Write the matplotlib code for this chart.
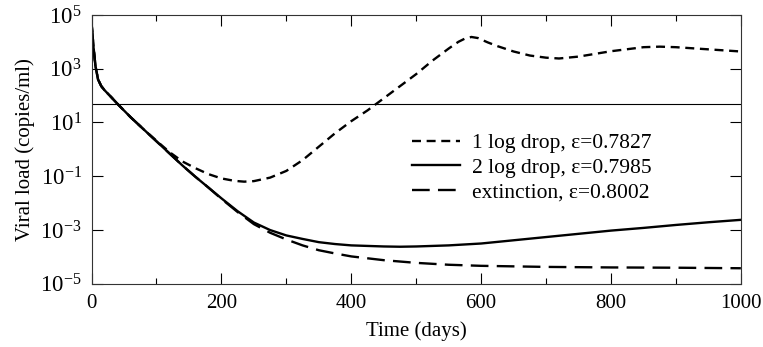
# -*- coding: utf-8 -*-

# %% Imports
import matplotlib
matplotlib.use('Agg')
import matplotlib.pyplot as plt
import numpy as np
from matplotlib.ticker import FixedLocator, LogFormatterMathtext


# %% Data (log10 of viral load)
t_one = [0, 3, 6, 10, 15, 20, 30, 40, 60, 80, 100, 120, 140, 160, 180, 200,
         220, 235, 250, 275, 300, 325, 350, 375, 400, 425, 450, 475, 500, 525,
         550, 565, 575, 585, 595, 610, 625, 650, 675, 700, 720, 750, 800, 850,
         875, 900, 950, 1000]
log_one = [4.7, 3.8, 3.1, 2.6, 2.35, 2.2, 1.95, 1.69, 1.2, 0.75, 0.32, -0.1,
           -0.45, -0.7, -0.92, -1.08, -1.17, -1.2, -1.18, -1.05, -0.8, -0.4,
           0.1, 0.6, 1.05, 1.45, 1.9, 2.35, 2.8, 3.3, 3.75, 4.0, 4.12, 4.18,
           4.14, 3.98, 3.84, 3.64, 3.49, 3.41, 3.38, 3.45, 3.65, 3.8, 3.82,
           3.8, 3.72, 3.64]

t_two = [0, 3, 6, 10, 15, 20, 30, 40, 60, 80, 100, 120, 140, 160, 180, 200,
         225, 250, 275, 300, 325, 350, 375, 400, 450, 475, 500, 550, 600, 650,
         700, 750, 800, 850, 900, 950, 1000]
log_two = [4.7, 3.8, 3.1, 2.6, 2.35, 2.2, 1.95, 1.69, 1.2, 0.75, 0.3, -0.15,
           -0.6, -1.02, -1.42, -1.82, -2.3, -2.72, -3.0, -3.2, -3.33, -3.45,
           -3.52, -3.57, -3.61, -3.62, -3.61, -3.57, -3.5, -3.38, -3.26, -3.14,
           -3.02, -2.92, -2.81, -2.71, -2.62]

t_ext = [0, 3, 6, 10, 15, 20, 30, 40, 60, 80, 100, 120, 140, 160, 180, 200,
         225, 250, 275, 300, 325, 350, 375, 400, 450, 500, 550, 600, 700, 800,
         900, 1000]
log_ext = [4.7, 3.8, 3.1, 2.6, 2.35, 2.2, 1.95, 1.69, 1.2, 0.75, 0.3, -0.15,
           -0.6, -1.02, -1.42, -1.84, -2.33, -2.78, -3.1, -3.35, -3.57, -3.75,
           -3.87, -3.98, -4.12, -4.22, -4.29, -4.33, -4.37, -4.39, -4.4, -4.42]

labels = ['1 log drop, \u03b5=0.7827', '2 log drop, \u03b5=0.7985',
          'extinction, \u03b5=0.8002']
threshold = 50


# %% Plot
plt.rcParams['font.family'] = ['Liberation Serif', 'DejaVu Serif']
plt.rcParams['mathtext.fontset'] = 'stix'

fig = plt.figure(figsize=(7.63, 3.47), dpi=100)
ax = fig.add_axes([0.120, 0.182, 0.851, 0.775])

ax.plot(t_one, 10**np.array(log_one), color='k', lw=1.7,
        dashes=(3.8, 2.4), label=labels[0])
ax.plot(t_two, 10**np.array(log_two), color='k', lw=1.7, label=labels[1])
ax.plot(t_ext, 10**np.array(log_ext), color='k', lw=1.7,
        dashes=(7.5, 3.5), label=labels[2])
ax.axhline(threshold, color='k', lw=0.8)

ax.set_yscale('log')
ax.set_xlim(0, 1000)
ax.set_ylim(1e-5, 1e5)

ax.xaxis.set_major_locator(FixedLocator([0, 200, 400, 600, 800, 1000]))
ax.xaxis.set_minor_locator(FixedLocator([100, 300, 500, 700, 900]))
ax.yaxis.set_major_locator(FixedLocator([1e-5, 1e-3, 1e-1, 1e1, 1e3, 1e5]))
ax.yaxis.set_minor_locator(FixedLocator([]))
ax.yaxis.set_major_formatter(LogFormatterMathtext())
ax.tick_params(which='both', direction='in', top=True, right=True, width=0.8)
ax.tick_params(axis='x', labelsize=15, pad=7)
ax.tick_params(axis='y', labelsize=16.5, pad=7)
ax.tick_params(which='major', length=8)
ax.tick_params(which='minor', length=4)
for sp in ax.spines.values():
    sp.set_linewidth(0.8)
    sp.set_color('#333333')

ax.set_xlabel('Time (days)', fontsize=15, labelpad=6)
ax.set_ylabel('Viral load (copies/ml)', fontsize=15, labelpad=4)

ax.legend(loc='upper left', bbox_to_anchor=(0.494, 0.56), frameon=False,
          fontsize=15.5, handlelength=2.2, handletextpad=0.55,
          labelspacing=0.2, borderpad=0, borderaxespad=0)

fig.savefig('out.png', dpi=100)
